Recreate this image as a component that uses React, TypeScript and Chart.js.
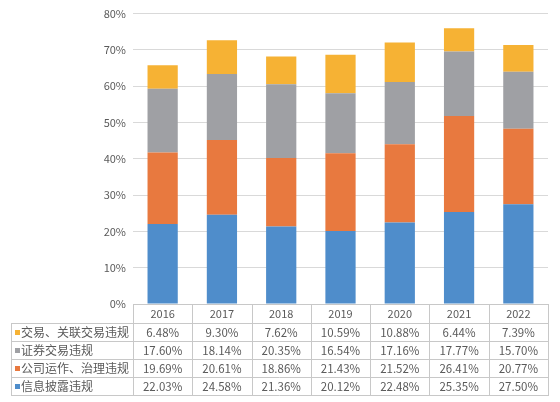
import React, { useEffect, useRef } from "react";
import { Chart, registerables } from "chart.js";

Chart.register(...registerables);

const years = ["2016", "2017", "2018", "2019", "2020", "2021", "2022"];
const infoDisclosure = [22.03, 24.58, 21.36, 20.12, 22.48, 25.35, 27.5];
const corpGovernance = [19.69, 20.61, 18.86, 21.43, 21.52, 26.41, 20.77];
const securitiesTrading = [17.6, 18.14, 20.35, 16.54, 17.16, 17.77, 15.7];
const relatedTrading = [6.48, 9.3, 7.62, 10.59, 10.88, 6.44, 7.39];

const seriesNames = ["信息披露违规", "公司运作、治理违规", "证券交易违规", "交易、关联交易违规"];
const seriesColors = ["#4F8DCB", "#E8793F", "#9FA0A4", "#F6B234"];
const yTicks = [0, 10, 20, 30, 40, 50, 60, 70, 80];

const FONT = '"Noto Sans CJK SC", "Noto Sans", sans-serif';
const TEXT = "#5a5a5a";

const tablePlugin = {
  id: "dataTable",
  afterDraw(chart: any) {
    const ctx = chart.ctx as CanvasRenderingContext2D;
    const x = chart.scales.x;
    const area = chart.chartArea;
    const n = years.length;
    const left = area.left;
    const right = area.right;
    const catW = (right - left) / n;
    const top = area.bottom;
    const headerBottom = top + 19;
    const rowH = 18;
    const tableLeft = 11;
    const tableBottom = headerBottom + rowH * 4;

    ctx.save();
    ctx.strokeStyle = "#c8c8c8";
    ctx.lineWidth = 1;
    ctx.beginPath();
    ctx.moveTo(left, Math.round(top) + 0.5);
    ctx.lineTo(right, Math.round(top) + 0.5);
    for (let r = 0; r <= 4; r++) {
      const yy = Math.round(headerBottom + r * rowH) + 0.5;
      ctx.moveTo(tableLeft, yy);
      ctx.lineTo(right, yy);
    }
    ctx.moveTo(tableLeft + 0.5, Math.round(headerBottom));
    ctx.lineTo(tableLeft + 0.5, Math.round(tableBottom) + 1);
    for (let i = 0; i <= n; i++) {
      const xx = Math.round(left + i * catW) + 0.5;
      ctx.moveTo(xx, Math.round(top));
      ctx.lineTo(xx, Math.round(tableBottom) + 1);
    }
    ctx.stroke();

    ctx.textBaseline = "middle";
    ctx.textAlign = "center";
    ctx.fillStyle = TEXT;
    ctx.font = `11px ${FONT}`;
    years.forEach((yr, i) => {
      ctx.fillText(yr, x.getPixelForValue(i), (top + headerBottom) / 2 + 0.5);
    });

    const rows = [
      { name: seriesNames[3], color: seriesColors[3], values: relatedTrading },
      { name: seriesNames[2], color: seriesColors[2], values: securitiesTrading },
      { name: seriesNames[1], color: seriesColors[1], values: corpGovernance },
      { name: seriesNames[0], color: seriesColors[0], values: infoDisclosure },
    ];
    rows.forEach((row, r) => {
      const cy = headerBottom + r * rowH + rowH / 2 + 0.5;
      ctx.fillStyle = row.color;
      ctx.fillRect(15, Math.round(cy - 3), 5, 5);
      ctx.fillStyle = TEXT;
      ctx.textAlign = "left";
      ctx.font = `12px ${FONT}`;
      ctx.fillText(row.name, 21, cy);
      ctx.textAlign = "center";
      ctx.font = `11.5px ${FONT}`;
      row.values.forEach((v, i) => {
        ctx.fillText(v.toFixed(2) + "%", x.getPixelForValue(i), cy);
      });
    });
    ctx.restore();
  },
};

export default function App() {
  const ref = useRef<HTMLCanvasElement | null>(null);
  useEffect(() => {
    if (!ref.current) return;
    const seriesData = [infoDisclosure, corpGovernance, securitiesTrading, relatedTrading];
    const chart = new Chart(ref.current, {
      type: "bar",
      data: {
        labels: years,
        datasets: seriesData.map((d, i) => ({
          label: seriesNames[i],
          data: d,
          backgroundColor: seriesColors[i],
          borderWidth: 0,
          categoryPercentage: 0.51,
          barPercentage: 1,
        })),
      },
      options: {
        responsive: false,
        animation: false,
        devicePixelRatio: 1,
        layout: { padding: { top: 12, right: 12, bottom: 98, left: 0 } },
        plugins: { legend: { display: false }, tooltip: { enabled: false } },
        scales: {
          x: { stacked: true, display: false },
          y: {
            stacked: true,
            min: 0,
            max: 80,
            afterBuildTicks: (s: any) => {
              s.ticks = yTicks.map((v) => ({ value: v }));
            },
            afterFit: (s: any) => {
              s.width = 133;
            },
            ticks: {
              padding: 7,
              color: TEXT,
              font: { family: FONT, size: 11 },
              callback: (v: any) => v + "%",
            },
            grid: { color: "#d9d9d9", drawTicks: false },
            border: { display: false },
          },
        },
      },
      plugins: [tablePlugin],
    });
    return () => chart.destroy();
  }, []);
  return (
    <div style={{ position: "fixed", left: 0, top: 0, width: 560, height: 402, background: "#fff" }}>
      <canvas ref={ref} width={560} height={402} style={{ display: "block" }} />
    </div>
  );
}
